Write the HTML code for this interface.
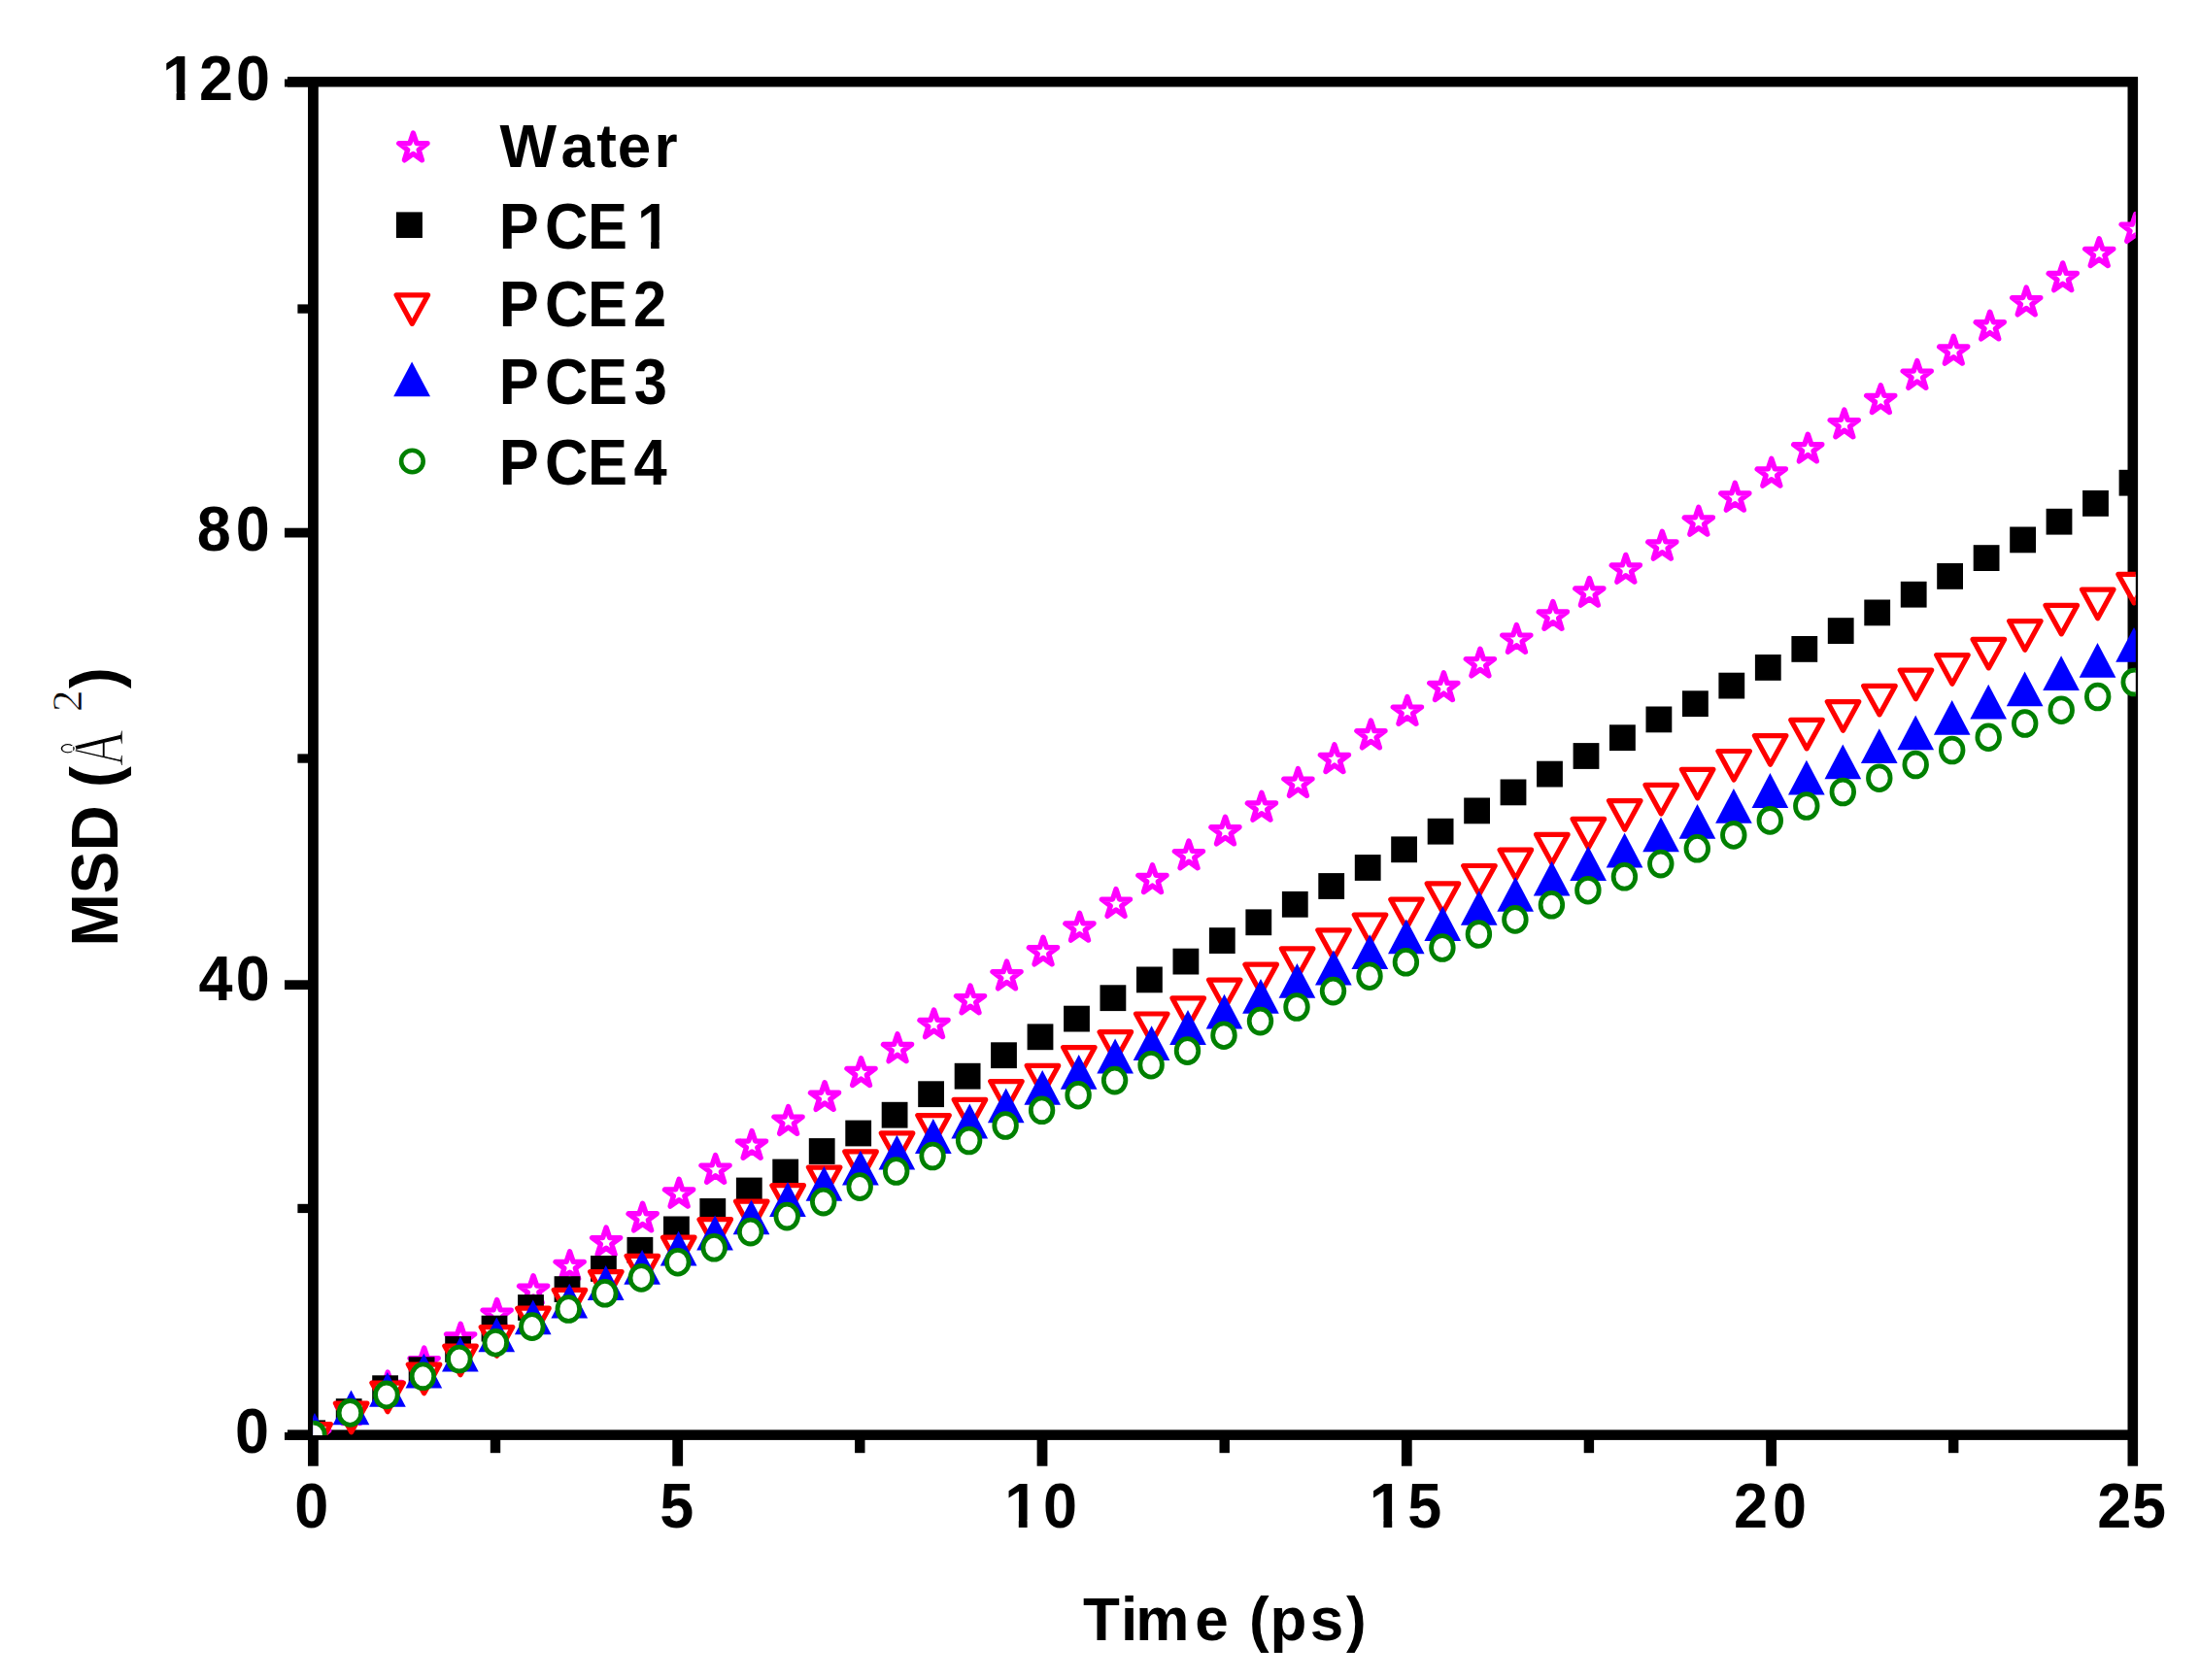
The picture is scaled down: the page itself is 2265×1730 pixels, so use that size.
<!DOCTYPE html>
<html><head><meta charset="utf-8"><title>MSD vs Time</title>
<style>
html,body{margin:0;padding:0;background:#fff;}
body{width:2265px;height:1730px;overflow:hidden;}
svg{display:block;}
text{font-family:"Liberation Sans",sans-serif;font-weight:bold;fill:#000;}
.ser{font-family:"Liberation Serif",serif;font-weight:normal;}
</style></head><body>
<svg width="2265" height="1730" viewBox="0 0 2265 1730">
<rect x="0" y="0" width="2265" height="1730" fill="#fff"/>

<g fill="#000">
<rect x="317" y="79" width="10.8" height="1430.7"/>
<rect x="2190.5" y="79.5" width="10.6" height="1430.2"/>
<rect x="296" y="79" width="1905" height="10.5"/>
<rect x="293" y="81.5" width="30" height="8"/>
<rect x="296" y="1472.4" width="1905" height="10.5"/>
<rect x="293" y="1475" width="30" height="7.9"/>
<rect x="293" y="1009.3" width="26" height="9.8"/>
<rect x="293" y="543.7" width="26" height="9.8"/>
<rect x="306.4" y="1239.8" width="12" height="9.3"/>
<rect x="306.4" y="776.4" width="12" height="9.3"/>
<rect x="306.4" y="313.4" width="12" height="9.3"/>
<rect x="692.3" y="1480" width="10.8" height="29.7"/>
<rect x="1067.6" y="1480" width="10.8" height="29.7"/>
<rect x="1442.9" y="1480" width="10.8" height="29.7"/>
<rect x="1818.2" y="1480" width="10.8" height="29.7"/>
<rect x="504.8" y="1480" width="10.4" height="16.2"/>
<rect x="880.1" y="1480" width="10.4" height="16.2"/>
<rect x="1255.5" y="1480" width="10.4" height="16.2"/>
<rect x="1630.7" y="1480" width="10.4" height="16.2"/>
<rect x="2006" y="1480" width="10.4" height="16.2"/>
</g>
<text transform="translate(0,1573.3) scale(1,1.027)" font-size="63" x="303.2">0</text>
<text transform="translate(0,1573.3) scale(1,1.027)" font-size="63" x="679.2">5</text>
<text transform="translate(0,1573.3) scale(1,1.027)" font-size="63" x="1034.2 1074">10</text>
<rect x="1036.7" y="1565.4" width="12.1" height="9.4" fill="#fff"/><rect x="1057.6" y="1565.4" width="11" height="9.4" fill="#fff"/>
<text transform="translate(0,1573.3) scale(1,1.027)" font-size="63" x="1409.8 1449.2">15</text>
<rect x="1412.3" y="1565.4" width="12.1" height="9.4" fill="#fff"/><rect x="1433.2" y="1565.4" width="11" height="9.4" fill="#fff"/>
<text transform="translate(0,1573.3) scale(1,1.027)" font-size="63" x="1785 1825">20</text>
<text transform="translate(0,1573.3) scale(1,1.027)" font-size="63" x="2159.2 2194.9">25</text>
<text transform="translate(0,102.5) scale(1,1.027)" font-size="63" x="167 205 243.1">120</text>
<rect x="169.5" y="94.6" width="12.1" height="9.4" fill="#fff"/><rect x="190.4" y="94.6" width="11" height="9.4" fill="#fff"/>
<text transform="translate(0,566.5) scale(1,1.027)" font-size="63" x="202.8 242.8">80</text>
<text transform="translate(0,1030) scale(1,1.027)" font-size="63" x="204.4 242.8">40</text>
<text transform="translate(0,1495.5) scale(1,1.027)" font-size="63" x="242">0</text>
<text id="xt" transform="translate(0,1688.8) scale(1,1.03)" font-size="62" x="1115.1 1154.1 1169.3 1230.3 1240.3 1286.1 1307.5 1348.8 1386.1">Time (ps)</text>
<g transform="translate(121.1,0) rotate(-90)">
<text id="yt1" transform="translate(-974.7,0) scale(1,1.055)" font-size="65.5">MSD (</text>
<text id="yt2" class="ser" transform="translate(-789,4.8) scale(0.664,1)" font-size="78" stroke="#fff" stroke-width="1.5">Å</text>
<text id="yt3" class="ser" x="-733" y="-36.8" font-size="45" stroke="#fff" stroke-width="0.6">2</text>
<text id="yt4" transform="translate(-709,0) scale(1,1.055)" font-size="65.5">)</text>
</g>
<g fill="#fff" stroke="#f0f" stroke-width="5.4" stroke-linejoin="round"><polygon points="425.4,137.1 428.9,147.5 440,147.7 431.1,154.3 434.4,164.8 425.4,158.4 416.4,164.8 419.7,154.3 410.8,147.7 421.9,147.5"/></g>
<g fill="#000"><rect x="407.9" y="218.4" width="27" height="26.6"/></g>
<g fill="#fff" stroke="#f00" stroke-width="5.2" stroke-linejoin="round"><polygon points="408.1,303.8 440.6,303.8 424.3,333.4"/></g>
<g fill="#00f"><polygon points="424.1,372.4 443,408.2 405.2,408.2"/></g>
<g fill="#fff" stroke="#008000" stroke-width="4.6"><circle cx="424.4" cy="475" r="11.3"/></g>
<text transform="translate(0,172.4) scale(1,1.03)" font-size="62" x="514.4 577.6 614.2 635.8 673.5">Water</text>
<text transform="translate(0,255.5) scale(1,1.07)" font-size="61.5" x="513.8 560.9 605.1 655.9">PCE1</text>
<rect x="658.3" y="247.5" width="11.8" height="9.5" fill="#fff"/><rect x="678.7" y="247.5" width="10.8" height="9.5" fill="#fff"/>
<text transform="translate(0,336) scale(1,1.07)" font-size="61.5" x="513.8 560.9 605.1 651.9">PCE2</text>
<text transform="translate(0,416) scale(1,1.07)" font-size="61.5" x="513.8 560.9 605.1 652.7">PCE3</text>
<text transform="translate(0,499.2) scale(1,1.07)" font-size="61.5" x="513.8 560.9 605.1 652.4">PCE4</text>
<defs><clipPath id="cp"><rect x="322.2" y="0" width="1876.6" height="1478.1"/></clipPath></defs>
<g clip-path="url(#cp)">
<g fill="#fff" stroke="#f0f" stroke-width="5.4" stroke-linejoin="round">
<polygon points="324.2,1462.6 327.7,1473 338.8,1473.2 329.9,1479.8 333.2,1490.3 324.2,1483.9 315.2,1490.3 318.5,1479.8 309.6,1473.2 320.7,1473"/>
<polygon points="361.7,1437.8 365.2,1448.2 376.2,1448.4 367.4,1454.9 370.7,1465.5 361.7,1459.1 352.7,1465.5 356,1454.9 347.1,1448.4 358.2,1448.2"/>
<polygon points="399.2,1413 402.7,1423.4 413.7,1423.5 404.9,1430.1 408.2,1440.6 399.2,1434.3 390.2,1440.6 393.5,1430.1 384.6,1423.5 395.7,1423.4"/>
<polygon points="436.7,1388.1 440.2,1398.6 451.2,1398.7 442.4,1405.3 445.7,1415.8 436.7,1409.4 427.7,1415.8 431,1405.3 422.1,1398.7 433.1,1398.6"/>
<polygon points="474.2,1363.3 477.7,1373.8 488.7,1373.9 479.9,1380.5 483.2,1391 474.2,1384.6 465.2,1391 468.5,1380.5 459.6,1373.9 470.6,1373.8"/>
<polygon points="511.6,1338.5 515.2,1348.9 526.2,1349.1 517.4,1355.7 520.6,1366.2 511.6,1359.8 502.7,1366.2 505.9,1355.7 497.1,1349.1 508.1,1348.9"/>
<polygon points="549.1,1313.7 552.7,1324.1 563.7,1324.3 554.8,1330.8 558.1,1341.4 549.1,1335 540.1,1341.4 543.4,1330.8 534.6,1324.3 545.6,1324.1"/>
<polygon points="586.6,1288.9 590.2,1299.3 601.2,1299.4 592.3,1306 595.6,1316.5 586.6,1310.2 577.6,1316.5 580.9,1306 572.1,1299.4 583.1,1299.3"/>
<polygon points="624.1,1264 627.6,1274.5 638.7,1274.6 629.8,1281.2 633.1,1291.7 624.1,1285.3 615.1,1291.7 618.4,1281.2 609.6,1274.6 620.6,1274.5"/>
<polygon points="661.6,1239.2 665.1,1249.7 676.2,1249.8 667.3,1256.4 670.6,1266.9 661.6,1260.5 652.6,1266.9 655.9,1256.4 647.1,1249.8 658.1,1249.7"/>
<polygon points="699.1,1214.4 702.6,1224.8 713.7,1225 704.8,1231.6 708.1,1242.1 699.1,1235.7 690.1,1242.1 693.4,1231.6 684.5,1225 695.6,1224.8"/>
<polygon points="736.6,1189.5 740.1,1199.9 751.1,1200.1 742.3,1206.6 745.6,1217.2 736.6,1210.8 727.6,1217.2 730.9,1206.6 722,1200.1 733.1,1199.9"/>
<polygon points="774.1,1164.6 777.6,1175 788.6,1175.1 779.8,1181.7 783.1,1192.2 774.1,1185.9 765.1,1192.2 768.4,1181.7 759.5,1175.1 770.6,1175"/>
<polygon points="811.6,1139.6 815.1,1150.1 826.1,1150.2 817.3,1156.8 820.6,1167.3 811.6,1160.9 802.6,1167.3 805.9,1156.8 797,1150.2 808,1150.1"/>
<polygon points="849.1,1114.7 852.6,1125.2 863.6,1125.3 854.8,1131.9 858.1,1142.4 849.1,1136 840.1,1142.4 843.4,1131.9 834.5,1125.3 845.5,1125.2"/>
<polygon points="886.5,1089.8 890.1,1100.2 901.1,1100.4 892.3,1107 895.5,1117.5 886.5,1111.1 877.6,1117.5 880.8,1107 872,1100.4 883,1100.2"/>
<polygon points="924,1064.9 927.6,1075.3 938.6,1075.5 929.7,1082 933,1092.6 924,1086.2 915,1092.6 918.3,1082 909.5,1075.5 920.5,1075.3"/>
<polygon points="961.5,1040 965.1,1050.4 976.1,1050.5 967.2,1057.1 970.5,1067.6 961.5,1061.3 952.5,1067.6 955.8,1057.1 947,1050.5 958,1050.4"/>
<polygon points="999,1015 1002.5,1025.5 1013.6,1025.6 1004.7,1032.2 1008,1042.7 999,1036.3 990,1042.7 993.3,1032.2 984.5,1025.6 995.5,1025.5"/>
<polygon points="1036.5,990.1 1040,1000.6 1051.1,1000.7 1042.2,1007.3 1045.5,1017.8 1036.5,1011.4 1027.5,1017.8 1030.8,1007.3 1022,1000.7 1033,1000.6"/>
<polygon points="1074,965.2 1077.5,975.6 1088.6,975.8 1079.7,982.4 1083,992.9 1074,986.5 1065,992.9 1068.3,982.4 1059.4,975.8 1070.5,975.6"/>
<polygon points="1111.5,940.4 1115,950.8 1126,951 1117.2,957.6 1120.5,968.1 1111.5,961.7 1102.5,968.1 1105.8,957.6 1096.9,951 1108,950.8"/>
<polygon points="1149,915.6 1152.5,926 1163.5,926.2 1154.7,932.8 1158,943.3 1149,936.9 1140,943.3 1143.3,932.8 1134.4,926.2 1145.5,926"/>
<polygon points="1186.5,890.8 1190,901.2 1201,901.4 1192.2,908 1195.5,918.5 1186.5,912.1 1177.5,918.5 1180.8,908 1171.9,901.4 1182.9,901.2"/>
<polygon points="1224,866 1227.5,876.4 1238.5,876.6 1229.7,883.2 1233,893.7 1224,887.3 1215,893.7 1218.3,883.2 1209.4,876.6 1220.4,876.4"/>
<polygon points="1261.5,841.2 1265,851.6 1276,851.8 1267.2,858.4 1270.4,868.9 1261.5,862.5 1252.5,868.9 1255.7,858.4 1246.9,851.8 1257.9,851.6"/>
<polygon points="1298.9,816.4 1302.5,826.8 1313.5,827 1304.6,833.6 1307.9,844.1 1298.9,837.7 1289.9,844.1 1293.2,833.6 1284.4,827 1295.4,826.8"/>
<polygon points="1336.4,791.6 1340,802 1351,802.2 1342.1,808.8 1345.4,819.3 1336.4,812.9 1327.4,819.3 1330.7,808.8 1321.9,802.2 1332.9,802"/>
<polygon points="1373.9,766.8 1377.4,777.2 1388.5,777.4 1379.6,784 1382.9,794.5 1373.9,788.1 1364.9,794.5 1368.2,784 1359.4,777.4 1370.4,777.2"/>
<polygon points="1411.4,742.1 1414.9,752.6 1426,752.7 1417.1,759.3 1420.4,769.8 1411.4,763.4 1402.4,769.8 1405.7,759.3 1396.9,752.7 1407.9,752.6"/>
<polygon points="1448.9,717.5 1452.4,727.9 1463.5,728.1 1454.6,734.6 1457.9,745.2 1448.9,738.8 1439.9,745.2 1443.2,734.6 1434.3,728.1 1445.4,727.9"/>
<polygon points="1486.4,692.8 1489.9,703.3 1500.9,703.4 1492.1,710 1495.4,720.5 1486.4,714.1 1477.4,720.5 1480.7,710 1471.8,703.4 1482.9,703.3"/>
<polygon points="1523.9,668.2 1527.4,678.6 1538.4,678.7 1529.6,685.3 1532.9,695.8 1523.9,689.5 1514.9,695.8 1518.2,685.3 1509.3,678.7 1520.4,678.6"/>
<polygon points="1561.4,643.5 1564.9,653.9 1575.9,654.1 1567.1,660.7 1570.4,671.2 1561.4,664.8 1552.4,671.2 1555.7,660.7 1546.8,654.1 1557.8,653.9"/>
<polygon points="1598.9,619.5 1602.4,629.9 1613.4,630 1604.6,636.6 1607.9,647.2 1598.9,640.8 1589.9,647.2 1593.2,636.6 1584.3,630 1595.3,629.9"/>
<polygon points="1636.4,595.5 1639.9,605.9 1650.9,606 1642.1,612.6 1645.3,623.1 1636.4,616.8 1627.4,623.1 1630.6,612.6 1621.8,606 1632.8,605.9"/>
<polygon points="1673.8,571.4 1677.4,581.9 1688.4,582 1679.5,588.6 1682.8,599.1 1673.8,592.7 1664.8,599.1 1668.1,588.6 1659.3,582 1670.3,581.9"/>
<polygon points="1711.3,547.4 1714.9,557.8 1725.9,558 1717,564.6 1720.3,575.1 1711.3,568.7 1702.3,575.1 1705.6,564.6 1696.8,558 1707.8,557.8"/>
<polygon points="1748.8,522.4 1752.3,532.8 1763.4,533 1754.5,539.6 1757.8,550.1 1748.8,543.7 1739.8,550.1 1743.1,539.6 1734.3,533 1745.3,532.8"/>
<polygon points="1786.3,497.4 1789.8,507.8 1800.9,508 1792,514.6 1795.3,525.1 1786.3,518.7 1777.3,525.1 1780.6,514.6 1771.8,508 1782.8,507.8"/>
<polygon points="1823.8,472.4 1827.3,482.8 1838.4,483 1829.5,489.6 1832.8,500.1 1823.8,493.7 1814.8,500.1 1818.1,489.6 1809.2,483 1820.3,482.8"/>
<polygon points="1861.3,447.2 1864.8,457.6 1875.8,457.8 1867,464.4 1870.3,474.9 1861.3,468.5 1852.3,474.9 1855.6,464.4 1846.7,457.8 1857.8,457.6"/>
<polygon points="1898.8,422 1902.3,432.4 1913.3,432.6 1904.5,439.2 1907.8,449.7 1898.8,443.3 1889.8,449.7 1893.1,439.2 1884.2,432.6 1895.3,432.4"/>
<polygon points="1936.3,396.8 1939.8,407.2 1950.8,407.4 1942,414 1945.3,424.5 1936.3,418.1 1927.3,424.5 1930.6,414 1921.7,407.4 1932.7,407.2"/>
<polygon points="1973.8,371.6 1977.3,382 1988.3,382.2 1979.5,388.8 1982.8,399.3 1973.8,392.9 1964.8,399.3 1968.1,388.8 1959.2,382.2 1970.2,382"/>
<polygon points="2011.3,346.4 2014.8,356.8 2025.8,357 2017,363.6 2020.2,374.1 2011.3,367.7 2002.3,374.1 2005.5,363.6 1996.7,357 2007.7,356.8"/>
<polygon points="2048.7,321.2 2052.3,331.7 2063.3,331.8 2054.4,338.4 2057.7,348.9 2048.7,342.6 2039.7,348.9 2043,338.4 2034.2,331.8 2045.2,331.7"/>
<polygon points="2086.2,296.1 2089.8,306.5 2100.8,306.7 2091.9,313.3 2095.2,323.8 2086.2,317.4 2077.2,323.8 2080.5,313.3 2071.7,306.7 2082.7,306.5"/>
<polygon points="2123.7,270.9 2127.2,281.4 2138.3,281.5 2129.4,288.1 2132.7,298.6 2123.7,292.2 2114.7,298.6 2118,288.1 2109.2,281.5 2120.2,281.4"/>
<polygon points="2161.2,245.8 2164.7,256.2 2175.8,256.4 2166.9,263 2170.2,273.5 2161.2,267.1 2152.2,273.5 2155.5,263 2146.7,256.4 2157.7,256.2"/>
<polygon points="2198.7,220.6 2202.2,231.1 2213.3,231.2 2204.4,237.8 2207.7,248.3 2198.7,241.9 2189.7,248.3 2193,237.8 2184.1,231.2 2195.2,231.1"/>
</g><g fill="#000">
<rect x="308.3" y="1462.4" width="26.8" height="26.8"/>
<rect x="345.8" y="1440.2" width="26.8" height="26.8"/>
<rect x="383.2" y="1416.3" width="26.8" height="26.8"/>
<rect x="420.7" y="1397.3" width="26.8" height="26.8"/>
<rect x="458.2" y="1376" width="26.8" height="26.8"/>
<rect x="495.6" y="1354.7" width="26.8" height="26.8"/>
<rect x="533.1" y="1333.1" width="26.8" height="26.8"/>
<rect x="570.6" y="1314.2" width="26.8" height="26.8"/>
<rect x="608" y="1293" width="26.8" height="26.8"/>
<rect x="645.5" y="1273.9" width="26.8" height="26.8"/>
<rect x="683" y="1252.5" width="26.8" height="26.8"/>
<rect x="720.4" y="1234" width="26.8" height="26.8"/>
<rect x="757.9" y="1212.6" width="26.8" height="26.8"/>
<rect x="795.3" y="1193.6" width="26.8" height="26.8"/>
<rect x="832.8" y="1172.1" width="26.8" height="26.8"/>
<rect x="870.3" y="1153.6" width="26.8" height="26.8"/>
<rect x="907.7" y="1134.8" width="26.8" height="26.8"/>
<rect x="945.2" y="1113.3" width="26.8" height="26.8"/>
<rect x="982.7" y="1094.8" width="26.8" height="26.8"/>
<rect x="1020.1" y="1073.3" width="26.8" height="26.8"/>
<rect x="1057.6" y="1054.4" width="26.8" height="26.8"/>
<rect x="1095.1" y="1035.7" width="26.8" height="26.8"/>
<rect x="1132.5" y="1014.3" width="26.8" height="26.8"/>
<rect x="1170" y="995.5" width="26.8" height="26.8"/>
<rect x="1207.5" y="976.7" width="26.8" height="26.8"/>
<rect x="1244.9" y="955.2" width="26.8" height="26.8"/>
<rect x="1282.4" y="936.4" width="26.8" height="26.8"/>
<rect x="1319.9" y="917.9" width="26.8" height="26.8"/>
<rect x="1357.3" y="899.1" width="26.8" height="26.8"/>
<rect x="1394.8" y="880.1" width="26.8" height="26.8"/>
<rect x="1432.2" y="861.4" width="26.8" height="26.8"/>
<rect x="1469.7" y="842.8" width="26.8" height="26.8"/>
<rect x="1507.2" y="821.5" width="26.8" height="26.8"/>
<rect x="1544.6" y="802.5" width="26.8" height="26.8"/>
<rect x="1582.1" y="783.7" width="26.8" height="26.8"/>
<rect x="1619.6" y="765.1" width="26.8" height="26.8"/>
<rect x="1657" y="746.3" width="26.8" height="26.8"/>
<rect x="1694.5" y="727.5" width="26.8" height="26.8"/>
<rect x="1732" y="711.3" width="26.8" height="26.8"/>
<rect x="1769.4" y="692.7" width="26.8" height="26.8"/>
<rect x="1806.9" y="674" width="26.8" height="26.8"/>
<rect x="1844.4" y="655" width="26.8" height="26.8"/>
<rect x="1881.8" y="636.2" width="26.8" height="26.8"/>
<rect x="1919.3" y="617.5" width="26.8" height="26.8"/>
<rect x="1956.8" y="598.8" width="26.8" height="26.8"/>
<rect x="1994.2" y="580" width="26.8" height="26.8"/>
<rect x="2031.7" y="561.2" width="26.8" height="26.8"/>
<rect x="2069.2" y="542.5" width="26.8" height="26.8"/>
<rect x="2106.6" y="523.8" width="26.8" height="26.8"/>
<rect x="2144.1" y="505" width="26.8" height="26.8"/>
<rect x="2181.6" y="483.8" width="26.8" height="26.8"/>
</g><g fill="#fff" stroke="#f00" stroke-width="5.2" stroke-linejoin="round">
<polygon points="307.9,1466.6 340.4,1466.6 324.2,1496.2"/>
<polygon points="345.4,1445.1 377.9,1445.1 361.7,1474.7"/>
<polygon points="382.9,1424.1 415.4,1424.1 399.1,1453.7"/>
<polygon points="420.3,1405.1 452.8,1405.1 436.6,1434.7"/>
<polygon points="457.8,1386.1 490.3,1386.1 474,1415.7"/>
<polygon points="495.2,1366.6 527.8,1366.6 511.5,1396.2"/>
<polygon points="532.7,1347.2 565.2,1347.2 549,1376.8"/>
<polygon points="570.2,1328.3 602.7,1328.3 586.4,1357.9"/>
<polygon points="607.6,1309.6 640.1,1309.6 623.9,1339.2"/>
<polygon points="645.1,1293.3 677.6,1293.3 661.3,1322.9"/>
<polygon points="682.5,1274.2 715,1274.2 698.8,1303.8"/>
<polygon points="720,1255.7 752.5,1255.7 736.3,1285.3"/>
<polygon points="757.5,1237.1 790,1237.1 773.7,1266.7"/>
<polygon points="794.9,1220.7 827.4,1220.7 811.2,1250.3"/>
<polygon points="832.4,1202.1 864.9,1202.1 848.6,1231.7"/>
<polygon points="869.8,1185.9 902.3,1185.9 886.1,1215.5"/>
<polygon points="907.3,1166.9 939.8,1166.9 923.6,1196.5"/>
<polygon points="944.8,1148.6 977.3,1148.6 961,1178.2"/>
<polygon points="982.2,1132.4 1014.7,1132.4 998.5,1162"/>
<polygon points="1019.7,1113.6 1052.2,1113.6 1035.9,1143.2"/>
<polygon points="1057.2,1097.4 1089.7,1097.4 1073.4,1127"/>
<polygon points="1094.6,1078.6 1127.1,1078.6 1110.9,1108.2"/>
<polygon points="1132.1,1062.7 1164.6,1062.7 1148.3,1092.3"/>
<polygon points="1169.5,1044 1202,1044 1185.8,1073.6"/>
<polygon points="1207,1027.9 1239.5,1027.9 1223.2,1057.5"/>
<polygon points="1244.5,1009.1 1277,1009.1 1260.7,1038.7"/>
<polygon points="1281.9,993.2 1314.4,993.2 1298.2,1022.8"/>
<polygon points="1319.4,976.9 1351.9,976.9 1335.6,1006.5"/>
<polygon points="1356.8,957.8 1389.3,957.8 1373.1,987.4"/>
<polygon points="1394.3,942 1426.8,942 1410.5,971.6"/>
<polygon points="1431.8,926.2 1464.2,926.2 1448,955.8"/>
<polygon points="1469.2,909.9 1501.7,909.9 1485.5,939.5"/>
<polygon points="1506.7,891.5 1539.2,891.5 1522.9,921.1"/>
<polygon points="1544.1,875.2 1576.6,875.2 1560.4,904.8"/>
<polygon points="1581.6,859.4 1614.1,859.4 1597.8,889"/>
<polygon points="1619.1,843.4 1651.6,843.4 1635.3,873"/>
<polygon points="1656.5,824.6 1689,824.6 1672.8,854.2"/>
<polygon points="1694,808.4 1726.5,808.4 1710.2,838"/>
<polygon points="1731.4,792.3 1763.9,792.3 1747.7,821.9"/>
<polygon points="1768.9,773.5 1801.4,773.5 1785.1,803.1"/>
<polygon points="1806.4,757.6 1838.9,757.6 1822.6,787.2"/>
<polygon points="1843.8,741.4 1876.3,741.4 1860.1,770.9"/>
<polygon points="1881.3,722.6 1913.8,722.6 1897.5,752.2"/>
<polygon points="1918.7,706.4 1951.2,706.4 1935,735.9"/>
<polygon points="1956.2,690.1 1988.7,690.1 1972.4,719.7"/>
<polygon points="1993.7,674.6 2026.2,674.6 2009.9,704.2"/>
<polygon points="2031.1,658.4 2063.6,658.4 2047.4,687.9"/>
<polygon points="2068.6,639.6 2101.1,639.6 2084.8,669.2"/>
<polygon points="2106,623.4 2138.5,623.4 2122.3,652.9"/>
<polygon points="2143.5,607.1 2176,607.1 2159.7,636.7"/>
<polygon points="2180.9,591.4 2213.4,591.4 2197.2,620.9"/>
</g><g fill="#00f">
<polygon points="324,1455 342.9,1490.8 305.1,1490.8"/>
<polygon points="361.5,1431.4 380.3,1467.2 342.6,1467.2"/>
<polygon points="398.9,1412.9 417.8,1448.7 380.1,1448.7"/>
<polygon points="436.4,1393.8 455.2,1429.6 417.5,1429.6"/>
<polygon points="473.8,1376.6 492.7,1412.4 455,1412.4"/>
<polygon points="511.3,1356.5 530.1,1392.3 492.4,1392.3"/>
<polygon points="548.8,1338.4 567.6,1374.2 529.9,1374.2"/>
<polygon points="586.2,1321.8 605.1,1357.6 567.4,1357.6"/>
<polygon points="623.7,1303.1 642.5,1338.9 604.8,1338.9"/>
<polygon points="661.1,1286.9 680,1322.7 642.3,1322.7"/>
<polygon points="698.6,1267.7 717.5,1303.5 679.8,1303.5"/>
<polygon points="736.1,1251.6 754.9,1287.4 717.2,1287.4"/>
<polygon points="773.5,1235.4 792.4,1271.2 754.7,1271.2"/>
<polygon points="811,1217.1 829.8,1252.9 792.1,1252.9"/>
<polygon points="848.4,1200.9 867.3,1236.7 829.6,1236.7"/>
<polygon points="885.9,1184.7 904.8,1220.5 867,1220.5"/>
<polygon points="923.4,1168.8 942.2,1204.6 904.5,1204.6"/>
<polygon points="960.8,1152.1 979.7,1187.9 942,1187.9"/>
<polygon points="998.3,1136.6 1017.1,1172.4 979.4,1172.4"/>
<polygon points="1035.7,1120.4 1054.6,1156.2 1016.9,1156.2"/>
<polygon points="1073.2,1102 1092,1137.8 1054.4,1137.8"/>
<polygon points="1110.7,1086 1129.5,1121.8 1091.8,1121.8"/>
<polygon points="1148.1,1069.6 1167,1105.4 1129.3,1105.4"/>
<polygon points="1185.6,1056.2 1204.4,1092 1166.7,1092"/>
<polygon points="1223,1040.1 1241.9,1075.9 1204.2,1075.9"/>
<polygon points="1260.5,1023.8 1279.3,1059.6 1241.7,1059.6"/>
<polygon points="1298,1007.9 1316.8,1043.7 1279.1,1043.7"/>
<polygon points="1335.4,992 1354.3,1027.8 1316.6,1027.8"/>
<polygon points="1372.9,978.6 1391.7,1014.4 1354,1014.4"/>
<polygon points="1410.3,962.3 1429.2,998.1 1391.5,998.1"/>
<polygon points="1447.8,946.4 1466.6,982.2 1429,982.2"/>
<polygon points="1485.3,933.2 1504.1,969 1466.4,969"/>
<polygon points="1522.7,916.9 1541.6,952.7 1503.9,952.7"/>
<polygon points="1560.2,903 1579,938.8 1541.3,938.8"/>
<polygon points="1597.6,886.7 1616.5,922.5 1578.8,922.5"/>
<polygon points="1635.1,871.2 1654,907 1616.3,907"/>
<polygon points="1672.6,857.7 1691.4,893.5 1653.7,893.5"/>
<polygon points="1710,841.4 1728.9,877.2 1691.2,877.2"/>
<polygon points="1747.5,828 1766.3,863.8 1728.6,863.8"/>
<polygon points="1784.9,812 1803.8,847.8 1766.1,847.8"/>
<polygon points="1822.4,796.1 1841.2,831.9 1803.6,831.9"/>
<polygon points="1859.9,782.8 1878.7,818.5 1841,818.5"/>
<polygon points="1897.3,766.5 1916.2,802.3 1878.5,802.3"/>
<polygon points="1934.8,750.2 1953.6,786 1915.9,786"/>
<polygon points="1972.2,736.5 1991.1,772.3 1953.4,772.3"/>
<polygon points="2009.7,721 2028.5,756.8 1990.9,756.8"/>
<polygon points="2047.2,704.8 2066,740.5 2028.3,740.5"/>
<polygon points="2084.6,691.5 2103.5,727.3 2065.8,727.3"/>
<polygon points="2122.1,675.2 2140.9,711 2103.2,711"/>
<polygon points="2159.5,662 2178.4,697.8 2140.7,697.8"/>
<polygon points="2197,646 2215.8,681.8 2178.2,681.8"/>
</g><g fill="#fff" stroke="#008000" stroke-width="4.8">
<ellipse cx="322.9" cy="1477.5" rx="11.3" ry="12.4"/>
<ellipse cx="360.4" cy="1454.9" rx="11.3" ry="12.4"/>
<ellipse cx="397.9" cy="1436.4" rx="11.3" ry="12.4"/>
<ellipse cx="435.4" cy="1417.3" rx="11.3" ry="12.4"/>
<ellipse cx="472.8" cy="1399.5" rx="11.3" ry="12.4"/>
<ellipse cx="510.3" cy="1382.7" rx="11.3" ry="12.4"/>
<ellipse cx="547.8" cy="1366.1" rx="11.3" ry="12.4"/>
<ellipse cx="585.3" cy="1348" rx="11.3" ry="12.4"/>
<ellipse cx="622.8" cy="1331.8" rx="11.3" ry="12.4"/>
<ellipse cx="660.3" cy="1315.9" rx="11.3" ry="12.4"/>
<ellipse cx="697.8" cy="1299.7" rx="11.3" ry="12.4"/>
<ellipse cx="735.2" cy="1284.8" rx="11.3" ry="12.4"/>
<ellipse cx="772.7" cy="1268.6" rx="11.3" ry="12.4"/>
<ellipse cx="810.2" cy="1252.6" rx="11.3" ry="12.4"/>
<ellipse cx="847.7" cy="1237.6" rx="11.3" ry="12.4"/>
<ellipse cx="885.2" cy="1222.1" rx="11.3" ry="12.4"/>
<ellipse cx="922.7" cy="1206" rx="11.3" ry="12.4"/>
<ellipse cx="960.1" cy="1190.5" rx="11.3" ry="12.4"/>
<ellipse cx="997.6" cy="1174.5" rx="11.3" ry="12.4"/>
<ellipse cx="1035.1" cy="1159" rx="11.3" ry="12.4"/>
<ellipse cx="1072.6" cy="1143.3" rx="11.3" ry="12.4"/>
<ellipse cx="1110.1" cy="1127.7" rx="11.3" ry="12.4"/>
<ellipse cx="1147.6" cy="1112.6" rx="11.3" ry="12.4"/>
<ellipse cx="1185.1" cy="1096.7" rx="11.3" ry="12.4"/>
<ellipse cx="1222.5" cy="1082.1" rx="11.3" ry="12.4"/>
<ellipse cx="1260" cy="1066.2" rx="11.3" ry="12.4"/>
<ellipse cx="1297.5" cy="1051.6" rx="11.3" ry="12.4"/>
<ellipse cx="1335" cy="1037" rx="11.3" ry="12.4"/>
<ellipse cx="1372.5" cy="1020.6" rx="11.3" ry="12.4"/>
<ellipse cx="1410" cy="1005.2" rx="11.3" ry="12.4"/>
<ellipse cx="1447.4" cy="990.8" rx="11.3" ry="12.4"/>
<ellipse cx="1484.9" cy="976" rx="11.3" ry="12.4"/>
<ellipse cx="1522.4" cy="962" rx="11.3" ry="12.4"/>
<ellipse cx="1559.9" cy="946.9" rx="11.3" ry="12.4"/>
<ellipse cx="1597.4" cy="931.8" rx="11.3" ry="12.4"/>
<ellipse cx="1634.9" cy="916.7" rx="11.3" ry="12.4"/>
<ellipse cx="1672.4" cy="902.8" rx="11.3" ry="12.4"/>
<ellipse cx="1709.8" cy="889.6" rx="11.3" ry="12.4"/>
<ellipse cx="1747.3" cy="873.8" rx="11.3" ry="12.4"/>
<ellipse cx="1784.8" cy="859.9" rx="11.3" ry="12.4"/>
<ellipse cx="1822.3" cy="844.9" rx="11.3" ry="12.4"/>
<ellipse cx="1859.8" cy="830" rx="11.3" ry="12.4"/>
<ellipse cx="1897.3" cy="815.5" rx="11.3" ry="12.4"/>
<ellipse cx="1934.8" cy="801.2" rx="11.3" ry="12.4"/>
<ellipse cx="1972.2" cy="787.5" rx="11.3" ry="12.4"/>
<ellipse cx="2009.7" cy="772.5" rx="11.3" ry="12.4"/>
<ellipse cx="2047.2" cy="759.2" rx="11.3" ry="12.4"/>
<ellipse cx="2084.7" cy="745" rx="11.3" ry="12.4"/>
<ellipse cx="2122.2" cy="731.2" rx="11.3" ry="12.4"/>
<ellipse cx="2159.7" cy="717.5" rx="11.3" ry="12.4"/>
<ellipse cx="2197.2" cy="702.5" rx="11.3" ry="12.4"/>
</g></g>
</svg></body></html>
